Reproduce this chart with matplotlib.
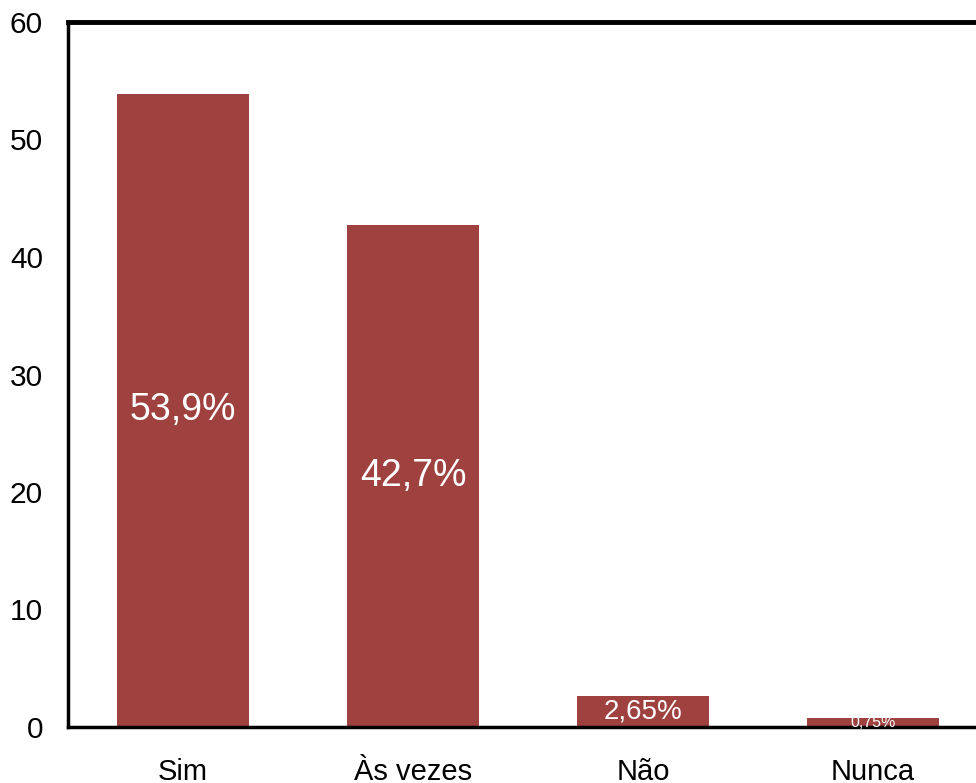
import matplotlib.pyplot as plt

# Survey answers and their percentages
categories = ["Sim", "Às vezes", "Não", "Nunca"]
values = [53.9, 42.7, 2.65, 0.75]
labels = ["53,9%", "42,7%", "2,65%", "0,75%"]
label_sizes = [27, 27, 20, 11.5]

plt.rcParams['font.family'] = ['Liberation Sans', 'DejaVu Sans']

fig = plt.figure(figsize=(9.76, 7.83), dpi=100)
# axes runs off the right edge like the original
ax = fig.add_axes([68 / 976, 1 - 727 / 783, 920 / 976, 705 / 783])

x = range(len(categories))
bars = ax.bar(x, values, width=0.57, color="#9E413F")

for bar, val, lab, fs in zip(bars, values, labels, label_sizes):
    ax.text(bar.get_x() + bar.get_width() / 2, val / 2, lab,
            ha='center', va='center', color='white', fontsize=fs)

ax.set_xlim(-0.5, 3.5)
ax.set_ylim(0, 60)
ax.set_yticks(range(0, 61, 10))
ax.set_xticks(list(x))
ax.set_xticklabels(categories)
ax.tick_params(axis='y', length=0, labelsize=21.5, colors='black', pad=18)
ax.tick_params(axis='x', length=0, labelsize=21, colors='black', pad=22)

ax.spines['top'].set_linewidth(3.5)
ax.spines['left'].set_linewidth(2.5)
ax.spines['bottom'].set_linewidth(2.5)
ax.spines['right'].set_visible(False)
for s in ax.spines.values():
    s.set_color('black')

fig.savefig("out.png", dpi=100)
